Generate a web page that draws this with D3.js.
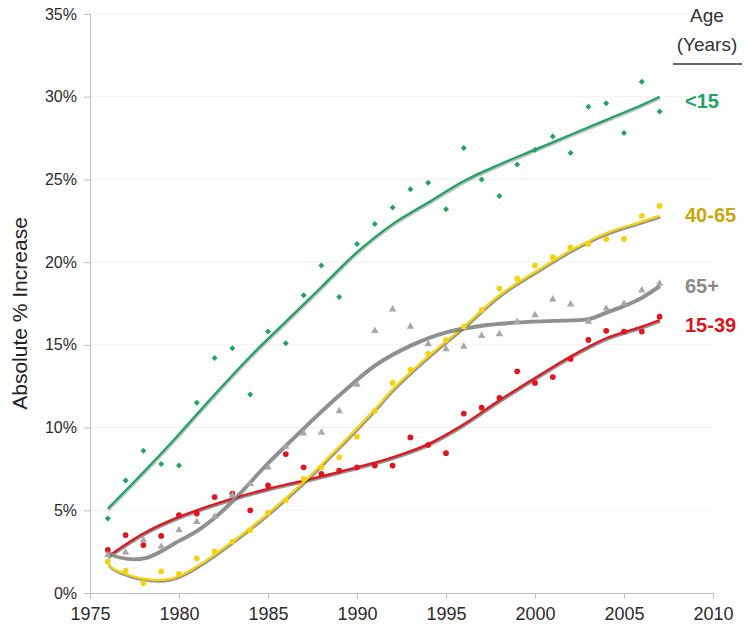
<!DOCTYPE html>
<html>
<head>
<meta charset="utf-8">
<script src="https://cdn.jsdelivr.net/npm/d3@7"></script>
<style>
  body { margin: 0; background: #fff; }
  text { font-family: "Liberation Sans", Arial, sans-serif; }
</style>
</head>
<body>
<svg id="chart" width="753" height="635"></svg>
<script>
// yearly observations, % absolute increase
const years = [1976, 1977, 1978, 1979, 1980, 1981, 1982, 1983, 1984, 1985, 1986, 1987, 1988, 1989, 1990, 1991,
               1992, 1993, 1994, 1995, 1996, 1997, 1998, 1999, 2000, 2001, 2002, 2003, 2004, 2005, 2006, 2007];
const under15 = [4.5, 6.8, 8.6, 7.8, 7.7, 11.5, 14.2, 14.8, 12.0, 15.8, 15.1, 18.0, 19.8, 17.9, 21.1, 22.3,
                 23.3, 24.4, 24.8, 23.2, 26.9, 25.0, 24.0, 25.9, 26.8, 27.6, 26.6, 29.4, 29.6, 27.8, 30.9, 29.1];
const age15to39 = [2.6, 3.5, 2.9, 3.45, 4.7, 4.8, 5.8, 6.0, 5.0, 6.5, 8.4, 7.6, 7.2, 7.4, 7.6, 7.7,
                   7.7, 9.4, 8.95, 8.45, 10.85, 11.2, 11.8, 13.4, 12.7, 13.05, 14.15, 15.3, 15.85, 15.8, 15.8, 16.7];
const age40to65 = [1.9, 1.35, 0.6, 1.3, 1.15, 2.1, 2.5, 3.1, 3.8, 4.85, 5.6, 6.9, 7.6, 8.2, 9.45, 11.0,
                   12.7, 13.5, 14.45, 15.3, 16.1, 17.1, 18.4, 19.0, 19.8, 20.3, 20.9, 21.1, 21.4, 21.4, 22.8, 23.4];
const age65plus = [2.3, 2.45, 3.2, 2.8, 3.8, 4.3, 4.6, 5.9, 6.6, 7.6, 8.85, 9.65, 9.7, 11.0, 12.6, 15.85,
                   17.15, 16.1, 15.05, 14.75, 14.9, 15.55, 15.65, 16.4, 16.8, 17.75, 17.45, 16.4, 17.2, 17.5, 18.3, 18.7];

// fitted trend lines as [year, %]
const under15Trend = [[1976, 5.1], [1978, 7.3], [1980, 9.6], [1982, 12.0], [1984, 14.3], [1986, 16.4], [1988, 18.5],
                      [1990, 20.6], [1992, 22.3], [1994, 23.6], [1996, 24.9], [1998, 25.9], [2000, 26.8],
                      [2002, 27.7], [2004, 28.6], [2006, 29.5], [2007, 30.0]];
const age15to39Trend = [[1976, 2.2], [1978, 3.6], [1980, 4.6], [1983, 5.7], [1985, 6.3], [1987, 6.8], [1990, 7.6],
                        [1992, 8.2], [1994, 9.0], [1996, 10.2], [1998, 11.65], [2000, 13.0], [2002, 14.3],
                        [2004, 15.4], [2006, 16.1], [2007, 16.5]];
const age40to65Trend = [[1976, 1.9], [1976.15, 1.6], [1977.8, 0.9], [1979.5, 0.85], [1981, 1.6], [1983, 3.1],
                        [1985, 4.8], [1987, 6.7], [1989, 8.85], [1991, 11.1], [1992, 12.3], [1994, 14.3],
                        [1996, 16.1], [1998, 18.0], [2000, 19.4], [2002, 20.7], [2004, 21.75], [2006, 22.45], [2007, 22.8]];
const age65plusTrend = [[1976, 2.5], [1976.6, 2.2], [1978.1, 2.15], [1980, 3.2], [1981, 3.8], [1982, 4.6],
                        [1983, 5.6], [1985, 7.9], [1987, 10.0], [1989, 12.0], [1991, 13.8], [1993, 15.0],
                        [1995, 15.8], [1997, 16.2], [1999, 16.4], [2001, 16.5], [2003, 16.6], [2004, 17.0],
                        [2005, 17.4], [2006, 17.9], [2007, 18.6]];

const yTicks = [0, 5, 10, 15, 20, 25, 30, 35];
const xTicks = [1975, 1980, 1985, 1990, 1995, 2000, 2005, 2010];

const series = [
    { name: "<15",   values: under15,   trend: under15Trend,   color: "#1fa463", label: "#1fa463", shape: "diamond",  ly: 108 },
    { name: "15-39", values: age15to39, trend: age15to39Trend, color: "#e0151f", label: "#d9141c", shape: "circle",   ly: 332 },
    { name: "40-65", values: age40to65, trend: age40to65Trend, color: "#f5d10f", label: "#c9a60a", shape: "circle",   ly: 222 },
    { name: "65+",   values: age65plus, trend: age65plusTrend, color: "#8f8f8f", label: "#8a8a8a", shape: "triangle", ly: 293 }
];

const svg = d3.select("#chart");

const x = d3.scaleLinear().domain([1975, 2010]).range([90, 713]);
const y = d3.scaleLinear().domain([0, 35]).range([593, 14]);

// faint gridlines
svg.append("g")
    .selectAll("line")
    .data(yTicks.slice(1))
    .join("line")
    .attr("x1", x(1975)).attr("x2", x(2010))
    .attr("y1", d => y(d)).attr("y2", d => y(d))
    .attr("stroke", "#f2f2f2")
    .attr("stroke-width", 1);

// axes
const yAxis = svg.append("g")
    .attr("transform", `translate(${x(1975)},0)`)
    .call(d3.axisLeft(y).tickValues(yTicks).tickFormat(d => d + "%").tickSizeOuter(0).tickSize(6).tickPadding(7));

const xAxis = svg.append("g")
    .attr("transform", `translate(0,${y(0)})`)
    .call(d3.axisBottom(x).tickValues(xTicks).tickFormat(d3.format("d")).tickSizeOuter(0).tickSize(6).tickPadding(8));

[yAxis, xAxis].forEach(g => {
    g.select(".domain").attr("stroke", "#bdbdbd");
    g.selectAll(".tick line").attr("stroke", "#bdbdbd");
    g.selectAll(".tick text").attr("fill", "#2b2b2b").style("font-family", "'Liberation Sans', Arial, sans-serif");
});
yAxis.selectAll(".tick text").style("font-size", "16px");
xAxis.selectAll(".tick text").style("font-size", "18px");

// y title
svg.append("text")
    .attr("transform", `translate(27,${y(17.5) + 10}) rotate(-90)`)
    .attr("text-anchor", "middle")
    .attr("fill", "#222")
    .style("font-size", "21px")
    .text("Absolute % Increase");

// trend lines with a soft dark shadow under them
const line = d3.line()
    .x(d => x(d[0]))
    .y(d => y(d[1]))
    .curve(d3.curveCatmullRom.alpha(0.5));

const drawOrder = ["15-39", "40-65", "65+", "<15"];
drawOrder.forEach(name => {
    const s = series.find(d => d.name === name);
    svg.append("path")
        .datum(s.trend)
        .attr("fill", "none")
        .attr("stroke", "#4a4a4a")
        .attr("stroke-opacity", name === "<15" ? 0.35 : 0.6)
        .attr("stroke-width", 2.6)
        .attr("transform", "translate(0.7,1.4)")
        .attr("d", line);
    svg.append("path")
        .datum(s.trend)
        .attr("fill", "none")
        .attr("stroke", s.color)
        .attr("stroke-width", 2.3)
        .attr("d", line);
});

// observed points
const symbolFor = {
    diamond: d3.symbol().type(d3.symbolSquare).size(18),
    circle: d3.symbol().type(d3.symbolCircle).size(26),
    triangle: d3.symbol().type(d3.symbolTriangle).size(24)
};

series.forEach(s => {
    svg.append("g")
        .selectAll("path")
        .data(s.values.map((v, i) => [years[i], v]))
        .join("path")
        .attr("d", symbolFor[s.shape])
        .attr("transform", d => `translate(${x(d[0])},${y(d[1])})` + (s.shape === "diamond" ? " rotate(45)" : ""))
        .attr("fill", s.shape === "triangle" ? "#a8a8a8" : s.color);
});

// legend
svg.append("text")
    .attr("x", 707).attr("y", 22)
    .attr("text-anchor", "middle")
    .attr("fill", "#333")
    .style("font-size", "19px")
    .text("Age");
svg.append("text")
    .attr("x", 707).attr("y", 51)
    .attr("text-anchor", "middle")
    .attr("fill", "#333")
    .style("font-size", "19px")
    .text("(Years)");
svg.append("line")
    .attr("x1", 673).attr("x2", 742)
    .attr("y1", 64).attr("y2", 64)
    .attr("stroke", "#333")
    .attr("stroke-width", 1.5);

series.forEach(s => {
    svg.append("text")
        .attr("x", 685)
        .attr("y", s.ly)
        .attr("fill", s.label)
        .style("font-size", "20px")
        .style("font-weight", "bold")
        .text(s.name);
});
</script>
</body>
</html>
